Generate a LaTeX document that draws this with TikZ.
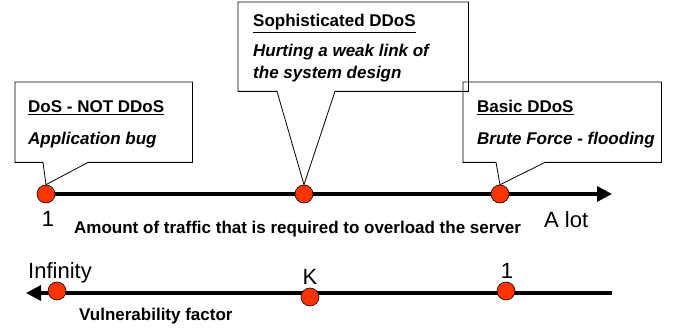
\documentclass[tikz,border=0pt]{standalone}
\usepackage{fontspec}
\setmainfont{Liberation Sans}
\usepackage{tikz}
\definecolor{DOTred}{HTML}{FF3300}
\usetikzlibrary{arrows.meta,calc}

\begin{document}
\begin{tikzpicture}[x=1pt,y=-1pt,
    dot/.style={circle,draw=black,line width=0.6pt,fill=DOTred,minimum size=18pt,inner sep=0pt},
    scaleline/.style={line width=3.3pt,-{Triangle[length=15pt,width=15pt]}},
    bubble/.style={line width=0.8pt,line join=miter},
    box/.style={rectangle,inner sep=0pt,anchor=north west},
    head/.style={anchor=base west,inner sep=0pt,font=\fontsize{17pt}{20pt}\selectfont\bfseries},
    note/.style={anchor=base west,inner sep=0pt,font=\fontsize{17pt}{20pt}\selectfont\bfseries\itshape},
    num/.style={inner sep=0pt,font=\fontsize{22pt}{26pt}\selectfont}]
    \useasboundingbox (0,0) rectangle (675,328);

    % traffic axis
    \coordinate (tstart) at (46,194);
    \coordinate (ttip) at (612,194);
    \draw[scaleline] (tstart) -- (ttip);
    \node[dot] (dos) at (46,194) {};
    \node[dot] (soph) at (304,194) {};
    \node[dot] (basic) at (500,194) {};
    \node[num,anchor=base] (one) at (48,227) {1};
    \node[num,anchor=base west] (alot) at (544,228) {A lot};
    \node[head] (traffic) at (74,234) {Amount of traffic that is required to overload the server};

    % vulnerability axis
    \coordinate (vstart) at (612,293);
    \coordinate (vtip) at (26,293);
    \draw[scaleline] (vstart) -- (vtip);
    \node[dot] (inf) at (57,291) {};
    \node[dot] (kay) at (310,297) {};
    \node[dot] (unit) at (506,291) {};
    \node[num,anchor=base west] (inflbl) at (28,279) {Infinity};
    \node[num,anchor=base] (kaylbl) at (310,285) {K};
    \node[num,anchor=base] (unitlbl) at (507,279) {1};
    \node[head] (vuln) at (79,321) {Vulnerability factor};

    % callouts
    \node[box,minimum width=177pt,minimum height=80pt] (dosbox) at (15,82) {};
    \draw[bubble] (dosbox.south west) -- ($(dosbox.south west)+(28,0)$) -- (dos.north)
      -- ($(dosbox.south west)+(73,0)$) -- (dosbox.south east) -- (dosbox.north east)
      -- (dosbox.north west) -- cycle;
    \node[head] (dostitle) at (28,113) {\underline{DoS - NOT DDoS}};
    \node[note] (dostext) at (28,145) {Application bug};

    \node[box,minimum width=230pt,minimum height=89pt] (sophbox) at (238,2) {};
    \draw[bubble] (sophbox.south west) -- ($(sophbox.south west)+(39,0)$) -- (soph.north)
      -- ($(sophbox.south west)+(97,0)$) -- (sophbox.south east) -- (sophbox.north east)
      -- (sophbox.north west) -- cycle;
    \node[head] (sophtitle) at (253,27) {\underline{Sophisticated DDoS}};
    \node[note] (sophtext) at (253,57) {Hurting a weak link of};
    \node[note] (sophtextb) at (253,79) {the system design};

    \node[box,minimum width=198pt,minimum height=80pt] (basicbox) at (463,82) {};
    \draw[bubble] (basicbox.south west) -- ($(basicbox.south west)+(33,0)$) -- (basic.north)
      -- ($(basicbox.south west)+(82,0)$) -- (basicbox.south east) -- (basicbox.north east)
      -- (basicbox.north west) -- cycle;
    \node[head] (basictitle) at (477,113) {\underline{Basic DDoS}};
    \node[note] (basictext) at (477,145) {Brute Force - flooding};
\end{tikzpicture}
\end{document}
